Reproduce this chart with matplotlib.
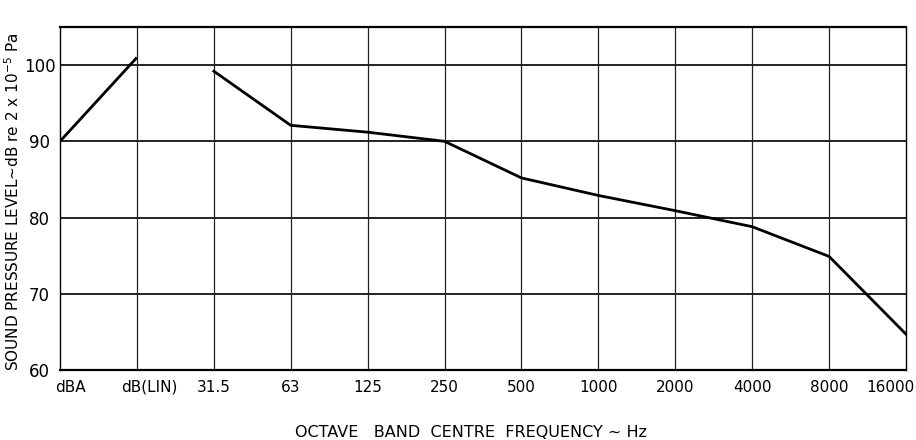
import matplotlib
matplotlib.use("Agg")
import matplotlib.pyplot as plt
from matplotlib.transforms import ScaledTranslation

categories = ["dBA", "dB(LIN)", "31.5", "63", "125", "250", "500",
              "1000", "2000", "4000", "8000", "16000"]
weighted_levels = [90.0, 101.0]            # dBA, dB(LIN)
band_levels = [99.2, 92.1, 91.2, 90.0, 85.2, 82.9, 80.9, 78.8, 74.9, 64.7]  # 31.5 .. 16000 Hz
y_ticks = [60, 70, 80, 90, 100]

plt.rcParams['font.family'] = ['DejaVu Sans']

fig = plt.figure(figsize=(9.16, 4.40), dpi=100)
ax = fig.add_axes([60/916, 1-370/440, (906-60)/916, (370-27)/440])

xpos = list(range(len(categories)))
ax.plot(xpos[:2], weighted_levels, color='black', lw=2.0, solid_capstyle='butt')
ax.plot(xpos[2:], band_levels, color='black', lw=2.0, solid_joinstyle='miter')

ax.set_xlim(0, len(categories) - 1)
ax.set_ylim(60, 105)

for x in xpos[1:-1]:
    ax.axvline(x, color='#222222', lw=0.9, zorder=0)
for y in y_ticks[1:]:
    ax.axhline(y, color='#222222', lw=1.4, zorder=0)

for s in ax.spines.values():
    s.set_color('black')
ax.spines['top'].set_linewidth(1.6)
ax.spines['bottom'].set_linewidth(1.6)
ax.spines['left'].set_linewidth(1.0)
ax.spines['right'].set_linewidth(1.0)

ax.set_xticks(xpos)
ax.set_xticklabels(categories, fontsize=11)
ax.set_yticks(y_ticks)
ax.set_yticklabels([str(v) for v in y_ticks], fontsize=12)
for lab in ax.get_yticklabels():
    lab.set_ha('center')
ax.tick_params(axis='y', length=0, pad=14.8)
ax.tick_params(axis='x', length=0, pad=7)

# nudge the edge labels like the reference
xl = ax.get_xticklabels()
shifts = {0: 10, 1: 12, len(categories) - 1: -16}
for i, dx in shifts.items():
    xl[i].set_transform(xl[i].get_transform() + ScaledTranslation(dx / 100, 0, fig.dpi_scale_trans))

ax.set_xlabel("OCTAVE   BAND  CENTRE  FREQUENCY ~ Hz", fontsize=11.5)
ax.xaxis.set_label_coords((471 - 60) / (906 - 60), -0.16)
ax.set_ylabel("SOUND PRESSURE LEVEL~dB re 2 x 10$^{-5}$ Pa", fontsize=11)
ax.yaxis.set_label_coords((22 - 60) / (906 - 60), 0.49)

fig.savefig("out.png", dpi=100)
